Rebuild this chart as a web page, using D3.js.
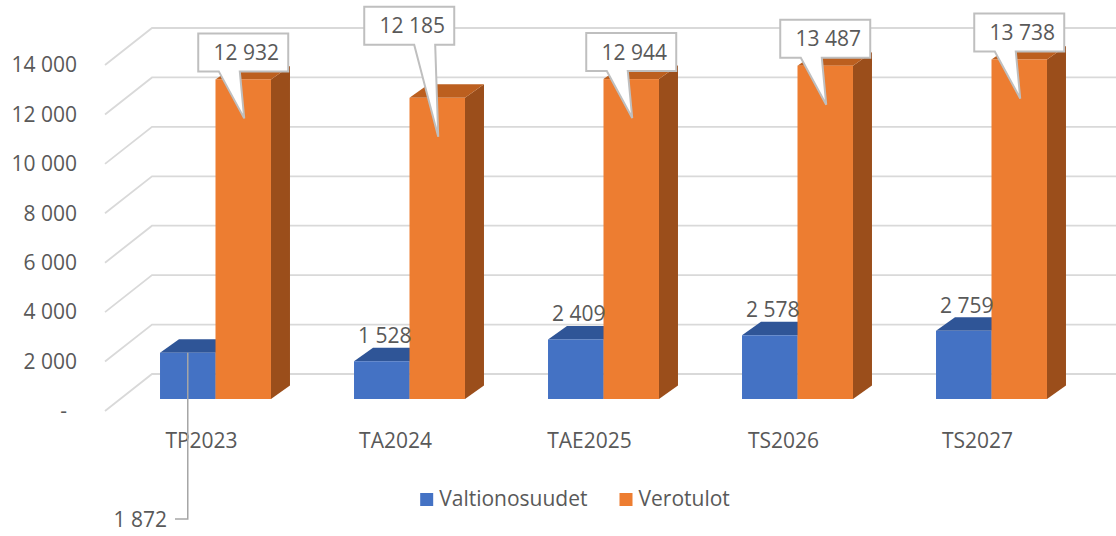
<!DOCTYPE html>
<html>
<head>
<meta charset="utf-8">
<script src="https://cdn.jsdelivr.net/npm/d3@7"></script>
<style>
  body { margin: 0; background: #fff; }
  svg { display: block; font-family: "Open Sans", "Noto Sans", sans-serif; }
</style>
</head>
<body>
<div id="chart"></div>
<script>
// data ---------------------------------------------------------------
const categories = ["TP2023", "TA2024", "TAE2025", "TS2026", "TS2027"];
const seriesNames = ["Valtionosuudet", "Verotulot"];
const valtionosuudet = [1872, 1528, 2409, 2578, 2759];
const verotulot = [12932, 12185, 12944, 13487, 13738];
const yTicks = [0, 2000, 4000, 6000, 8000, 10000, 12000, 14000];

const width = 1116, height = 536;
const textColor = "#595959";
const fontSize = 21;
const colors = {
    Valtionosuudet: { front: "#4472C4", top: "#2F5597", side: "#2B4F8C" },
    Verotulot: { front: "#ED7D31", top: "#BC5F1F", side: "#9B4E1B" }
};

// 3d offsets
const depth = { dx: 19, dy: -13.5 };    // bar depth
const backWall = { x: 152, dy: -25 };   // gridline plane vs bar plane
const frontWall = { x: 105, dy: 12 };   // axis plane vs bar plane

const svg = d3.select("#chart").append("svg")
    .attr("width", width)
    .attr("height", height);

const fmt = d3.formatLocale({ decimal: ",", thousands: "\u00a0", grouping: [3], currency: ["", "€"] }).format(",d");
const label = v => v === 0 ? "-" : fmt(v);

const x0 = d3.scaleBand()
    .domain(categories)
    .range([118.5, 1088.5])
    .paddingInner(0.428)
    .paddingOuter(0.214);

const x1 = d3.scaleBand()
    .domain(seriesNames)
    .range([0, x0.bandwidth()]);

const y = d3.scaleLinear()
    .domain([0, 14000])
    .range([399, 53]);

// gridlines (back wall + floor diagonal)
const grid = svg.append("g");
yTicks.forEach(t => {
    const yb = y(t) + backWall.dy, yf = y(t) + frontWall.dy;
    grid.append("path")
        .attr("d", `M${frontWall.x},${yf}L${backWall.x},${yb}H${width}`)
        .attr("fill", "none")
        .attr("stroke", "#D9D9D9")
        .attr("stroke-width", 1.8);
    grid.append("text")
        .attr("x", t === 0 ? 67 : 77)
        .attr("y", yf)
        .attr("dy", "0.35em")
        .attr("text-anchor", "end")
        .attr("font-size", fontSize)
        .attr("fill", textColor)
        .text(label(t));
});

// bars
const rows = categories.map((c, i) => ({ cat: c, Valtionosuudet: valtionosuudet[i], Verotulot: verotulot[i] }));

const groups = svg.append("g").selectAll("g")
    .data(rows)
    .join("g")
    .attr("transform", d => `translate(${x0(d.cat)},0)`);

seriesNames.forEach(s => {
    const bx = x1(s), bw = x1.bandwidth();
    const g = groups.append("g");
    g.append("path")
        .attr("d", d => {
            const yt = y(d[s]);
            return `M${bx + bw},${y(0)}l${depth.dx},${depth.dy}V${yt + depth.dy}l${-depth.dx},${-depth.dy}Z`;
        })
        .attr("fill", colors[s].side);
    g.append("path")
        .attr("d", d => {
            const yt = y(d[s]);
            return `M${bx},${yt}l${depth.dx},${depth.dy}h${bw}l${-depth.dx},${-depth.dy}Z`;
        })
        .attr("fill", colors[s].top);
    g.append("rect")
        .attr("x", bx)
        .attr("y", d => y(d[s]))
        .attr("width", bw)
        .attr("height", d => y(0) - y(d[s]))
        .attr("fill", colors[s].front);
});

// category labels
svg.append("g").selectAll("text")
    .data(categories)
    .join("text")
    .attr("x", d => x0(d) + x0.bandwidth() / 2 - 14)
    .attr("y", 448)
    .attr("text-anchor", "middle")
    .attr("font-size", fontSize)
    .attr("fill", textColor)
    .text(d => d);

// blue data labels
const blueShift = [{ moved: true }, {}, {}, {}, {}];
const blue = svg.append("g");
rows.forEach((d, i) => {
    const cx = x0(d.cat) + x1("Valtionosuudet") + x1.bandwidth() / 2;
    const yt = y(d.Valtionosuudet);
    if (blueShift[i].moved) {
        blue.append("path")
            .attr("d", `M${cx},${yt}V519H175`)
            .attr("fill", "none")
            .attr("stroke", "#A6A6A6")
            .attr("stroke-width", 1.5);
        blue.append("text")
            .attr("x", 167)
            .attr("y", 527)
            .attr("text-anchor", "end")
            .attr("font-size", fontSize)
            .attr("fill", textColor)
            .text(fmt(d.Valtionosuudet));
    } else {
        blue.append("text")
            .attr("x", cx + 3)
            .attr("y", yt - 18)
            .attr("text-anchor", "middle")
            .attr("font-size", fontSize)
            .attr("fill", textColor)
            .text(fmt(d.Valtionosuudet));
    }
});

// orange callouts
const calloutShift = [[0, 0], [-28, -45], [0, 0], [0, 0], [0, 0]];
const boxW = 90, boxH = 38;
const callouts = svg.append("g");
rows.forEach((d, i) => {
    const tipX = x0(d.cat) + x1("Verotulot") + x1.bandwidth() / 2 + 1;
    const tipY = y(d.Verotulot) + 39;
    const bcx = tipX - 1 + calloutShift[i][0];
    const bottom = tipY - 47 + calloutShift[i][1];
    const left = bcx - boxW / 2, top = bottom - boxH;
    const baseC = bcx - 15 + (tipX - bcx) * 1.05;
    callouts.append("path")
        .attr("d", `M${left},${top}H${left + boxW}V${bottom}H${baseC + 10.5}L${tipX},${tipY}L${baseC - 10.5},${bottom}H${left}Z`)
        .attr("fill", "#fff")
        .attr("stroke", "#BFBFBF")
        .attr("stroke-width", 2)
        .attr("stroke-linejoin", "miter");
    callouts.append("text")
        .attr("x", bcx + 3)
        .attr("y", top + boxH / 2)
        .attr("dy", "0.36em")
        .attr("text-anchor", "middle")
        .attr("font-size", fontSize)
        .attr("fill", textColor)
        .text(fmt(d.Verotulot));
});

// legend
const legend = svg.append("g");
let lx = 0;
seriesNames.forEach(s => {
    const item = legend.append("g").attr("transform", `translate(${lx},0)`);
    item.append("rect")
        .attr("x", 0)
        .attr("y", 493)
        .attr("width", 13)
        .attr("height", 13)
        .attr("fill", colors[s].front);
    const t = item.append("text")
        .attr("x", 19)
        .attr("y", 506)
        .attr("font-size", fontSize)
        .attr("fill", textColor)
        .text(s);
    lx += 19 + t.node().getComputedTextLength() + 32;
});
const lw = legend.node().getBBox().width;
legend.attr("transform", `translate(${575 - lw / 2},0)`);
</script>
</body>
</html>
